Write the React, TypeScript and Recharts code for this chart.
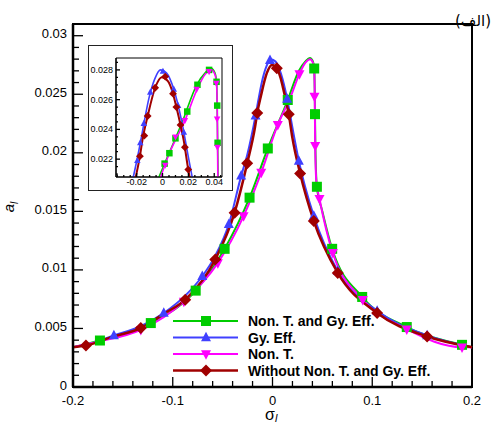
import { ComposedChart, Line, Scatter, XAxis, YAxis, ReferenceArea } from 'recharts'

const FONT = '"Liberation Sans", Arial, Helvetica, sans-serif'

const GREEN = '#00cc00'
const BLUE = '#4040ff'
const MAGENTA = '#ff00ff'
const DARK_RED = '#a00000'

const seriesNames = ['Non. T. and Gy. Eff.', 'Gy. Eff.', 'Non. T.', 'Without Non. T. and Gy. Eff.']

// curves: detuning sigma_l vs amplitude a_l
const bothSigma = [-0.2, -0.173, -0.122, -0.077, -0.048, -0.023, -0.0047, 0.0153, 0.0265, 0.033, 0.0375, 0.0405, 0.0418, 0.0423, 0.0426, 0.043, 0.0445, 0.05, 0.0598, 0.0899, 0.1346, 0.19, 0.2]
const bothAmp = [0.0034, 0.00397, 0.00546, 0.00823, 0.0118, 0.01617, 0.02037, 0.02451, 0.027, 0.0278, 0.0281, 0.0278, 0.0272, 0.0255, 0.0233, 0.0205, 0.0171, 0.015, 0.0118, 0.00769, 0.00512, 0.0036, 0.0034]

const gySigma = [-0.2, -0.187, -0.159, -0.132, -0.109, -0.0875, -0.0704, -0.0574, -0.0438, -0.0314, -0.0254, -0.017, -0.0144, -0.0105, -0.006, -0.0015, 0.003, 0.0087, 0.0147, 0.0205, 0.0264, 0.0414, 0.0654, 0.1049, 0.155, 0.2]
const gyAmp = [0.0034, 0.0036, 0.0044, 0.0052, 0.00632, 0.0078, 0.00946, 0.0112, 0.01389, 0.01803, 0.0198, 0.02317, 0.0244, 0.0261, 0.0274, 0.028, 0.0278, 0.0267, 0.0246, 0.0219, 0.01931, 0.0146, 0.0099, 0.0065, 0.0044, 0.0034]

const nonTSigma = [-0.2, -0.173, -0.132, -0.0889, -0.0548, -0.029, -0.0113, 0.0053, 0.0173, 0.027, 0.033, 0.0377, 0.0405, 0.0418, 0.0423, 0.0425, 0.0428, 0.044, 0.0471, 0.0604, 0.0905, 0.1346, 0.19, 0.2]
const nonTAmp = [0.0034, 0.0039, 0.00489, 0.00731, 0.0106, 0.0146, 0.01831, 0.0224, 0.0246, 0.02674, 0.0277, 0.028, 0.0277, 0.027, 0.0255, 0.0235, 0.0206, 0.0175, 0.01608, 0.01146, 0.00746, 0.00494, 0.0034, 0.0034]

const withoutSigma = [-0.2, -0.187, -0.16, -0.132, -0.11, -0.0875, -0.0574, -0.038, -0.0254, -0.0175, -0.0153, -0.0115, -0.0057, -0.0005, 0.0043, 0.0081, 0.0107, 0.0139, 0.0163, 0.0199, 0.0277, 0.0414, 0.0654, 0.1049, 0.155, 0.2]
const withoutAmp = [0.0034, 0.00354, 0.0043, 0.00503, 0.0062, 0.00746, 0.01089, 0.01489, 0.0191, 0.0222, 0.0234, 0.0249, 0.0268, 0.0275, 0.02723, 0.0264, 0.0255, 0.0243, 0.0233, 0.0213, 0.01823, 0.01417, 0.00974, 0.00632, 0.00431, 0.0034]

// symbols on the main plot
const bothMarkSigma = [-0.173, -0.122, -0.077, -0.048, -0.023, -0.0047, 0.0153, 0.0418, 0.0426, 0.0445, 0.0598, 0.0899, 0.1346, 0.19]
const bothMarkAmp = [0.00397, 0.00546, 0.00823, 0.0118, 0.01617, 0.02037, 0.02451, 0.0272, 0.0233, 0.0171, 0.0118, 0.00769, 0.00512, 0.0036]
const gyMarkSigma = [-0.159, -0.109, -0.0704, -0.0438, -0.0314, -0.017, -0.0025, 0.0147, 0.0264, 0.0414, 0.0654, 0.1049, 0.155]
const gyMarkAmp = [0.0044, 0.00632, 0.00946, 0.01389, 0.01803, 0.02317, 0.0279, 0.0246, 0.01931, 0.0146, 0.0099, 0.0065, 0.0044]
const nonTMarkSigma = [-0.132, -0.0889, -0.0548, -0.029, -0.0113, 0.0053, 0.027, 0.0421, 0.0428, 0.0471, 0.0604, 0.0905, 0.1346, 0.19]
const nonTMarkAmp = [0.00489, 0.00731, 0.0106, 0.0146, 0.01831, 0.0224, 0.02674, 0.0248, 0.0206, 0.01608, 0.01146, 0.00746, 0.00494, 0.0034]
const withoutMarkSigma = [-0.187, -0.132, -0.0875, -0.0574, -0.038, -0.0254, -0.0153, 0.0043, 0.0163, 0.0277, 0.0414, 0.0654, 0.1049, 0.155]
const withoutMarkAmp = [0.00354, 0.00503, 0.00746, 0.01089, 0.01489, 0.0191, 0.0234, 0.02723, 0.0233, 0.01823, 0.01417, 0.00974, 0.00632, 0.00431]

// symbols in the zoomed inset
const bothInsetSigma = [0.0016, 0.0053, 0.01, 0.0191, 0.027, 0.036, 0.0418, 0.0423, 0.0426]
const bothInsetAmp = [0.0217, 0.0224, 0.0234, 0.0252, 0.027, 0.028, 0.0272, 0.0256, 0.0231]
const gyInsetSigma = [-0.0195, -0.0172, -0.0145, -0.0095, 0.0003, 0.0087, 0.012, 0.0165]
const gyInsetAmp = [0.0219, 0.0231, 0.0244, 0.0265, 0.0279, 0.0267, 0.0256, 0.0238]
const nonTInsetSigma = [0.0021, 0.01, 0.0173, 0.0264, 0.036, 0.0416, 0.0422, 0.0425]
const nonTInsetAmp = [0.0216, 0.0235, 0.0246, 0.0267, 0.0279, 0.0271, 0.0247, 0.0228]
const withoutInsetSigma = [-0.0175, -0.0141, -0.0115, -0.0057, 0.0021, 0.0081, 0.0107, 0.0139, 0.0173, 0.0199]
const withoutInsetAmp = [0.0222, 0.02358, 0.0249, 0.0268, 0.02755, 0.0264, 0.0255, 0.0243, 0.0228, 0.0213]

// axis ticks
const xMajor = [-0.2, -0.1, 0, 0.1, 0.2]
const xLabels = ['-0.2', '-0.1', '0', '0.1', '0.2']
const yMajor = [0, 0.005, 0.01, 0.015, 0.02, 0.025, 0.03]
const yLabels = ['0', '0.005', '0.01', '0.015', '0.02', '0.025', '0.03']
const insetXMajor = [-0.02, 0, 0.02, 0.04]
const insetXLabels = ['-0.02', '0', '0.02', '0.04']
const insetYMajor = [0.022, 0.024, 0.026, 0.028]
const insetYLabels = ['0.022', '0.024', '0.026', '0.028']

const steps = (from: number, to: number, step: number) =>
  Array.from({ length: Math.round((to - from) / step) + 1 }, (_, i) => +(from + i * step).toFixed(6))

type Pt = { x: number; y: number }
type Kind = 'square' | 'up' | 'down' | 'diamond'
const zip = (xs: number[], ys: number[]): Pt[] => xs.map((x, i) => ({ x, y: ys[i] }))

const series = [
  { name: seriesNames[0], color: GREEN, kind: 'square' as Kind, width: 2, curve: zip(bothSigma, bothAmp), marks: zip(bothMarkSigma, bothMarkAmp), inset: zip(bothInsetSigma, bothInsetAmp) },
  { name: seriesNames[1], color: BLUE, kind: 'up' as Kind, width: 2, curve: zip(gySigma, gyAmp), marks: zip(gyMarkSigma, gyMarkAmp), inset: zip(gyInsetSigma, gyInsetAmp) },
  { name: seriesNames[2], color: MAGENTA, kind: 'down' as Kind, width: 2, curve: zip(nonTSigma, nonTAmp), marks: zip(nonTMarkSigma, nonTMarkAmp), inset: zip(nonTInsetSigma, nonTInsetAmp) },
  { name: seriesNames[3], color: DARK_RED, kind: 'diamond' as Kind, width: 2.5, curve: zip(withoutSigma, withoutAmp), marks: zip(withoutMarkSigma, withoutMarkAmp), inset: zip(withoutInsetSigma, withoutInsetAmp) },
]

function Marker({ kind, cx, cy, size, color }: { kind: Kind; cx: number; cy: number; size: number; color: string }) {
  const r = size / 2
  if (kind === 'square') return <rect x={cx - r} y={cy - r} width={size} height={size} fill={color} />
  const shape =
    kind === 'up'
      ? [[0, -1.15], [1, 0.75], [-1, 0.75]]
      : kind === 'down'
        ? [[0, 1.15], [1, -0.75], [-1, -0.75]]
        : [[0, -1.2], [1.2, 0], [0, 1.2], [-1.2, 0]]
  return <polygon points={shape.map(([a, b]) => `${cx + a * r},${cy + b * r}`).join(' ')} fill={color} />
}

const findMajor = (majors: number[], v: number) => majors.findIndex((m) => Math.abs(m - v) < 1e-9)

function bottomTick(majors: number[], labels: string[], long: number, short: number, fontSize: number, dy: number) {
  return (props: any) => {
    const { x, y, payload } = props
    const k = findMajor(majors, payload.value)
    return (
      <g>
        <line x1={x} x2={x} y1={y} y2={y - (k >= 0 ? long : short)} stroke="#000" strokeWidth={1.3} />
        {k >= 0 && (
          <text x={x} y={y + dy} textAnchor="middle" fontSize={fontSize} fontFamily={FONT} fill="#000">
            {labels[k]}
          </text>
        )}
      </g>
    )
  }
}

function leftTick(majors: number[], labels: string[], long: number, short: number, fontSize: number, dx: number, dy: number) {
  return (props: any) => {
    const { x, y, payload } = props
    const k = findMajor(majors, payload.value)
    return (
      <g>
        <line x1={x} x2={x + (k >= 0 ? long : short)} y1={y} y2={y} stroke="#000" strokeWidth={1.3} />
        {k >= 0 && (
          <text x={x - dx} y={y + dy} textAnchor="end" fontSize={fontSize} fontFamily={FONT} fill="#000">
            {labels[k]}
          </text>
        )}
      </g>
    )
  }
}

function Inset() {
  return (
    <div
      style={{
        position: 'absolute',
        left: 88,
        top: 45,
        width: 145,
        height: 146,
        boxSizing: 'border-box',
        border: '1px solid #222',
        background: '#fff',
      }}
    >
      <ComposedChart width={143} height={144} margin={{ top: 12, right: 10, bottom: 0, left: 0 }}>
        <XAxis
          dataKey="x"
          type="number"
          domain={[-0.036, 0.046]}
          allowDataOverflow
          ticks={steps(-0.035, 0.045, 0.005)}
          interval={0}
          tickSize={0}
          tickMargin={0}
          tickLine={false}
          axisLine={{ stroke: '#000', strokeWidth: 1.2 }}
          tick={bottomTick(insetXMajor, insetXLabels, 4, 2, 9, 8)}
          height={13}
        />
        <YAxis
          dataKey="y"
          type="number"
          domain={[0.0208, 0.0288]}
          allowDataOverflow
          ticks={steps(0.021, 0.0285, 0.0005)}
          interval={0}
          tickSize={0}
          tickMargin={0}
          tickLine={false}
          axisLine={{ stroke: '#000', strokeWidth: 1.2 }}
          tick={leftTick(insetYMajor, insetYLabels, 4, 2, 9, 3, 3)}
          width={27}
        />
        <ReferenceArea x1={-0.036} x2={0.046} y1={0.0208} y2={0.0288} fill="none" stroke="#000" strokeWidth={1} ifOverflow="visible" />
        {series.flatMap((s) => [
          <Line
            key={`${s.name}-line`}
            data={s.curve}
            dataKey="y"
            type="monotone"
            stroke={s.color}
            strokeWidth={s.width * 0.8}
            dot={false}
            isAnimationActive={false}
          />,
          <Scatter
            key={`${s.name}-marks`}
            data={s.inset}
            dataKey="y"
            isAnimationActive={false}
            shape={(p: any) => <Marker kind={s.kind} cx={p.cx} cy={p.cy} size={6.5} color={s.color} />}
          />,
        ])}
      </ComposedChart>
    </div>
  )
}

function LegendBox() {
  const rowY = [321, 337.5, 354, 370.5]
  return (
    <svg style={{ position: 'absolute', left: 0, top: 0 }} width={494} height={423} pointerEvents="none">
      {series.map((s, i) => (
        <g key={s.name}>
          <line x1={173} x2={238} y1={rowY[i]} y2={rowY[i]} stroke={s.color} strokeWidth={s.width} />
          <Marker kind={s.kind} cx={206} cy={rowY[i]} size={10} color={s.color} />
          <text x={248} y={rowY[i] + 5} fontSize={14} fontWeight="bold" fontFamily={FONT} fill="#000">
            {s.name}
          </text>
        </g>
      ))}
      <text x={14} y={207} transform="rotate(-90 14 207)" textAnchor="middle" fontSize={15} fontStyle="italic" fontFamily={FONT}>
        a<tspan fontSize={10} dy={4}>l</tspan>
      </text>
      <text x={265} y={420} fontSize={16} fontFamily={FONT}>
        σ<tspan fontSize={11} dy={2} fontStyle="italic">l</tspan>
      </text>
      <text x={455} y={26} fontSize={15} fontFamily='"DejaVu Sans", sans-serif'>
        (الف)
      </text>
    </svg>
  )
}

export default function App() {
  return (
    <div style={{ position: 'absolute', left: 0, top: 0, width: 494, height: 423, background: '#fff' }}>
      <ComposedChart width={494} height={423} margin={{ top: 24, right: 22, bottom: 6, left: 23 }}>
        <XAxis
          dataKey="x"
          type="number"
          domain={[-0.2, 0.2]}
          ticks={steps(-0.2, 0.2, 0.02)}
          interval={0}
          tickSize={0}
          tickMargin={0}
          tickLine={false}
          axisLine={{ stroke: '#000', strokeWidth: 2.5 }}
          tick={bottomTick(xMajor, xLabels, 10, 6, 13, 17.5)}
          height={30}
        />
        <YAxis
          dataKey="y"
          type="number"
          domain={[0, 0.031]}
          ticks={steps(0, 0.03, 0.001)}
          interval={0}
          tickSize={0}
          tickMargin={0}
          tickLine={false}
          axisLine={{ stroke: '#000', strokeWidth: 2.5 }}
          tick={leftTick(yMajor, yLabels, 10, 6, 13, 6, 2.5)}
          width={50}
        />
        <ReferenceArea x1={-0.2} x2={0.2} y1={0} y2={0.031} fill="none" stroke="#000" strokeWidth={2} ifOverflow="visible" />
        {series.flatMap((s) => [
          <Line
            key={`${s.name}-line`}
            data={s.curve}
            dataKey="y"
            type="monotone"
            stroke={s.color}
            strokeWidth={s.width}
            dot={false}
            isAnimationActive={false}
          />,
          <Scatter
            key={`${s.name}-marks`}
            data={s.marks}
            dataKey="y"
            isAnimationActive={false}
            shape={(p: any) => <Marker kind={s.kind} cx={p.cx} cy={p.cy} size={10} color={s.color} />}
          />,
        ])}
      </ComposedChart>
      <Inset />
      <LegendBox />
    </div>
  )
}
